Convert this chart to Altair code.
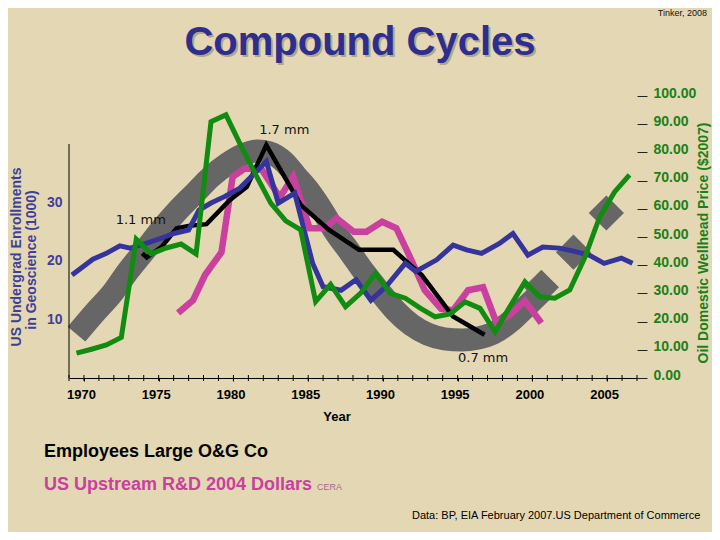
import altair as alt
import pandas as pd

# ---------------- data ----------------
# US undergrad enrollments in geoscience (1000) - left axis
blue_year = [1969.2, 1970.6, 1971.5, 1972.4, 1973.1, 1974.0, 1975.1, 1976.0, 1977.0, 1977.7,
             1978.5, 1979.4, 1980.4, 1981.3, 1982.2, 1983.0, 1984.1, 1985.3, 1986.0, 1987.2,
             1988.2, 1989.2, 1990.2, 1991.5, 1992.2, 1993.6, 1994.7, 1995.6, 1996.6, 1997.8,
             1998.7, 1999.7, 2000.7, 2001.8, 2002.9, 2003.8, 2004.8, 2005.95, 2006.7]
blue_val = [17.6, 20.3, 21.3, 22.6, 22.2, 22.9, 23.8, 24.7, 25.3, 28.7,
            29.9, 31.0, 32.4, 34.7, 37.0, 29.9, 31.6, 19.6, 15.6, 15.0,
            16.8, 13.3, 15.6, 19.6, 18.2, 20.2, 22.7, 21.9, 21.3, 23.0,
            24.7, 21.0, 22.4, 22.2, 21.6, 21.0, 19.6, 20.5, 19.6]

# Oil domestic wellhead price ($2007) - right axis
green_year = [1969.5, 1970.5, 1971.5, 1972.5, 1973.5, 1974.5, 1975.5, 1976.5, 1977.5, 1978.5,
              1979.5, 1980.5, 1981.5, 1982.5, 1983.5, 1984.5, 1985.5, 1986.5, 1987.5, 1988.5,
              1989.5, 1990.5, 1991.5, 1992.5, 1993.5, 1994.5, 1995.5, 1996.5, 1997.5, 1998.5,
              1999.5, 2000.5, 2001.5, 2002.5, 2003.5, 2004.5, 2005.5, 2006.5]
green_price = [8.8, 10.2, 11.7, 14.4, 49.2, 44.0, 46.1, 47.5, 44.0, 90.9,
               93.3, 82.4, 72.0, 62.0, 55.7, 52.5, 27.1, 33.2, 25.3, 30.0,
               37.1, 30.0, 28.3, 24.8, 21.7, 22.7, 27.0, 24.7, 16.4, 25.3,
               34.1, 28.8, 28.3, 31.2, 42.6, 57.1, 66.0, 72.0]

# Employees, large O&G companies (relative, drawn on the left scale)
black_year = [1973.9, 1974.2, 1975.2, 1976.2, 1977.0, 1978.2, 1979.75, 1980.9, 1982.2,
              1984.5, 1986.4, 1988.4, 1990.7, 1992.6, 1994.7, 1996.8]
black_val = [21.3, 20.6, 22.4, 25.6, 26.0, 26.3, 30.4, 32.7, 39.8,
             29.6, 25.3, 21.9, 21.9, 17.6, 10.5, 7.4]

# US upstream R&D, 2004 dollars (relative, drawn on the left scale)
mag_year = [1976.3, 1977.3, 1978.1, 1979.2, 1979.95, 1980.75, 1981.9, 1983.1, 1984.0, 1985.1,
            1986.1, 1986.9, 1988.05, 1988.9, 1989.95, 1990.9, 1991.9, 1992.8, 1993.9, 1994.7,
            1995.7, 1996.7, 1997.6, 1998.5, 1999.5, 2000.6]
mag_val = [11.1, 13.3, 17.6, 21.5, 34.4, 35.8, 35.6, 30.9, 34.4, 25.6,
           25.6, 27.3, 25.0, 25.0, 26.7, 25.6, 20.2, 15.0, 11.8, 11.6,
           15.0, 15.5, 9.4, 10.8, 13.2, 9.4]

# Grey cycle band (centre line) and its end markers
band_year = [1969.5, 1970.7, 1971.9, 1972.9, 1974.1, 1975.2, 1976.3, 1977.5, 1978.5, 1979.6,
             1980.6, 1981.6, 1982.4, 1983.4, 1984.2, 1985.1, 1986.0, 1986.8, 1987.8, 1988.8,
             1989.8, 1990.85, 1991.9, 1993.0, 1994.1, 1995.3, 1996.3, 1997.4, 1998.5, 1999.5,
             2000.6]
band_val = [7.5, 11.1, 14.5, 18.1, 21.9, 25.5, 28.7, 31.8, 34.4, 36.6,
            38.1, 38.8, 38.5, 36.9, 34.5, 31.8, 28.4, 25.0, 21.5, 17.9,
            14.7, 11.5, 9.1, 7.5, 6.7, 6.5, 6.8, 7.7, 9.6, 12.0,
            14.7]
diamond_year = [2000.6, 2002.75, 2004.95]
diamond_val = [15.5, 21.5, 28.2]

# Annotations
note_text = ["1.7 mm", "1.1 mm", "0.7 mm"]
note_year = [1983.4, 1973.8, 1996.7]
note_val = [42.4, 27.0, 3.5]

# Axis values / tick labels
x_label_years = [1970, 1975, 1980, 1985, 1990, 1995, 2000, 2005]
x_tick_years = list(range(1969, 2008))
left_ticks = [10, 20, 30]
right_ticks = [0, 10, 20, 30, 40, 50, 60, 70, 80, 90, 100]

# ---------------- styling ----------------
W, H = 568, 282
BG = "#E4D8B4"
BLUE = "#34349C"
GREEN = "#118C11"
MAGENTA = "#C9409F"
GREY = "#666666"
FONT = "Liberation Sans"

xs = alt.Scale(domain=[1969, 2007], nice=False, zero=False)
ys_left = alt.Scale(domain=[0, 48.2], nice=False, zero=True)
ys_right = alt.Scale(domain=[0, 100], nice=False)

x_axis = alt.Axis(values=x_label_years, format="d", title=None, grid=False,
                  labelFont=FONT, labelFontWeight="bold", labelFontSize=13,
                  labelColor="black", labelPadding=7, labelOffset=-3,
                  ticks=True, tickSize=3, tickColor="black",
                  domainColor="black", domainWidth=1)
left_axis = alt.Axis(values=left_ticks, title=None, grid=False, domain=False, ticks=False,
                     labelFont=FONT, labelFontWeight="bold", labelFontSize=14,
                     labelColor="#3F3F9A", labelPadding=7, orient="left")
right_axis = alt.Axis(values=right_ticks, format=".2f", title=None, grid=False,
                      domain=False, ticks=True, tickSize=10, tickColor="#222222",
                      labelFont=FONT, labelFontWeight="bold", labelFontSize=14,
                      labelColor="#1A801A", labelPadding=6, labelOffset=-3,
                      orient="right", labelOverlap=False)

X = alt.X("year:Q", scale=xs, axis=x_axis)
YL = alt.Y("v:Q", scale=ys_left, axis=left_axis)

band_df = pd.DataFrame({"year": band_year, "v": band_val})
dia_df = pd.DataFrame({"year": diamond_year, "v": diamond_val})
mag_df = pd.DataFrame({"year": mag_year, "v": mag_val})
black_df = pd.DataFrame({"year": black_year, "v": black_val})
blue_df = pd.DataFrame({"year": blue_year, "v": blue_val})
green_df = pd.DataFrame({"year": green_year, "p": green_price})
note_df = pd.DataFrame({"year": note_year, "v": note_val, "t": note_text})
tick_df = pd.DataFrame({"year": x_tick_years})
laxis_df = pd.DataFrame({"year": [1969], "v": [0], "v2": [40]})

band = alt.Chart(band_df).mark_line(color=GREY, strokeWidth=23, strokeCap="butt",
                                    interpolate="monotone").encode(x=X, y=YL)
diamonds = alt.Chart(dia_df).mark_point(shape="square", filled=True, color=GREY,
                                        opacity=1, size=620, angle=45).encode(x=X, y=YL)
mag = alt.Chart(mag_df).mark_line(color=MAGENTA, strokeWidth=6.5).encode(x=X, y=YL)
black = alt.Chart(black_df).mark_line(color="black", strokeWidth=4.5).encode(x=X, y=YL)
blue = alt.Chart(blue_df).mark_line(color=BLUE, strokeWidth=5).encode(x=X, y=YL)
notes = alt.Chart(note_df).mark_text(font="DejaVu Sans", fontSize=13, color="#111111",
                                     align="center", baseline="middle").encode(x=X, y=YL, text="t:N")
ticks = alt.Chart(tick_df).mark_rule(color="black", strokeWidth=1).encode(
    x=X, y=alt.value(H - 3), y2=alt.value(H + 3))
laxis = alt.Chart(laxis_df).mark_rule(color="black", strokeWidth=1).encode(
    x=X, y=YL, y2="v2:Q")

left = alt.layer(band, diamonds, mag, black, blue, notes, ticks, laxis)

green = alt.Chart(green_df).mark_line(color=GREEN, strokeWidth=5).encode(
    x=X, y=alt.Y("p:Q", scale=ys_right, axis=right_axis))


def txt(text, x, y, **kw):
    return alt.Chart(pd.DataFrame({"t": [text]})).mark_text(**kw).encode(
        text="t:N", x=alt.value(x), y=alt.value(y))


texts = [
    txt("Compound Cycles", 293, -39, font=FONT, fontSize=40, fontWeight="bold",
        color="#8E8676", opacity=0.6, align="center", baseline="alphabetic"),
    txt("Compound Cycles", 291, -41, font=FONT, fontSize=40, fontWeight="bold",
        color="#2D2E8F", align="center", baseline="alphabetic"),
    txt("Tinker, 2008", 638, -80, font=FONT, fontSize=9, color="#111111",
        align="right", baseline="alphabetic"),
    txt("US Undergrad Enrollments", -52, 161, font=FONT, fontSize=14, fontWeight="bold",
        color="#3F3F9A", angle=270, align="center", baseline="middle"),
    txt("in Geoscience (1000)", -37, 164, font=FONT, fontSize=14, fontWeight="bold",
        color="#3F3F9A", angle=270, align="center", baseline="middle"),
    txt("Oil Domestic Wellhead Price ($2007)", 635, 147, font=FONT, fontSize=14,
        fontWeight="bold", color="#1A801A", angle=270, align="center", baseline="middle"),
    txt("Year", 268, 321, font=FONT, fontSize=13, fontWeight="bold", color="black",
        align="center", baseline="middle"),
    txt("Employees Large O&G Co", -25, 361, font=FONT, fontSize=18, fontWeight="bold",
        color="black", align="left", baseline="alphabetic"),
    txt("US Upstream R&D 2004 Dollars", -25, 394, font=FONT, fontSize=18, fontWeight="bold",
        color=MAGENTA, align="left", baseline="alphabetic"),
    txt("CERA", 248, 394, font=FONT, fontSize=9, color="#A8688F",
        align="left", baseline="alphabetic"),
    txt("Data: BP, EIA February 2007.US Department of Commerce", 343, 423, font=FONT,
        fontSize=11, color="black", align="left", baseline="alphabetic"),
]

chart = alt.layer(left, green, *texts).resolve_scale(y="independent").properties(
    width=W, height=H, background=BG,
    padding={"left": 61, "top": 88, "right": 75, "bottom": 154},
    autosize=alt.AutoSizeParams(type="none"),
).configure_view(stroke=None)

chart.save("out.html", embed_options={"renderer": "svg", "actions": False})
